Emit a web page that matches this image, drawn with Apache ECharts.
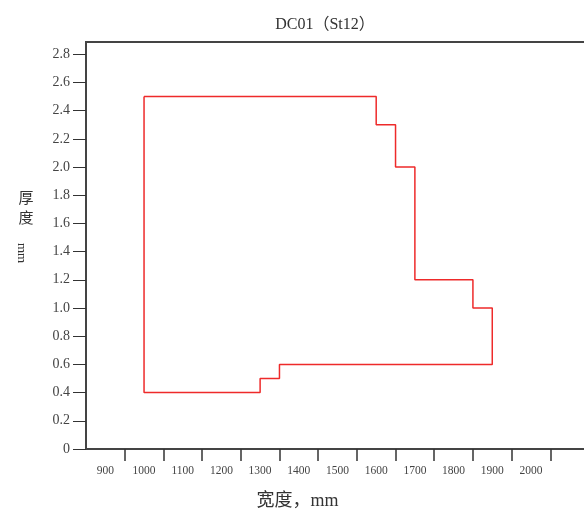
<!DOCTYPE html>
<html>
<head>
<meta charset="utf-8">
<script src="https://cdn.jsdelivr.net/npm/echarts@6/dist/echarts.min.js"></script>
<style>
  html, body { margin: 0; padding: 0; background: #fff; }
  #chart { width: 584px; height: 512px; }
</style>
</head>
<body>
<div id="chart"></div>
<script>
// 宽度-厚度 范围 (closed outline)
var widths = [1000, 1600, 1600, 1650, 1650, 1700, 1700, 1850, 1850, 1900, 1900, 1350, 1350, 1300, 1300, 1000, 1000]
var thicknesses = [2.5, 2.5, 2.3, 2.3, 2.0, 2.0, 1.2, 1.2, 1.0, 1.0, 0.6, 0.6, 0.5, 0.5, 0.4, 0.4, 2.5]
var xLabels = [900, 1000, 1100, 1200, 1300, 1400, 1500, 1600, 1700, 1800, 1900, 2000]
var xTicks = [950, 1050, 1150, 1250, 1350, 1450, 1550, 1650, 1750, 1850, 1950, 2050]
var yLabels = [0, 0.2, 0.4, 0.6, 0.8, 1.0, 1.2, 1.4, 1.6, 1.8, 2.0, 2.2, 2.4, 2.6, 2.8]

var serif = 'Liberation Serif, DejaVu Serif, Noto Sans CJK SC'
var chart = echarts.init(document.getElementById('chart'))

chart.setOption({
  animation: false,
  title: {
    text: 'DC01（St12）',
    left: 320,
    top: 12,
    textAlign: 'center',
    textStyle: { fontFamily: serif, fontSize: 16, fontWeight: 'normal', color: '#333' }
  },
  grid: {
    left: 86,
    right: -5,
    top: 42,
    bottom: 63,
    outerBoundsMode: 'none',
    containLabel: false,
    show: true,
    borderColor: '#444',
    borderWidth: 2
  },
  xAxis: {
    type: 'value',
    min: 850,
    max: 2150,
    offset: 2,
    name: '宽度，mm',
    nameLocation: 'middle',
    nameGap: 41,
    nameTextStyle: { fontFamily: serif, fontSize: 18, color: '#333', padding: [0, 80, 0, 0] },
    splitLine: { show: false },
    axisLine: { show: false },
    axisTick: { show: true, length: 12, customValues: xTicks, lineStyle: { color: '#333', width: 1.5 } },
    axisLabel: {
      customValues: xLabels,
      margin: 14,
      fontFamily: serif,
      fontSize: 11.5,
      color: '#444',
      formatter: function (v) { return String(v) }
    }
  },
  yAxis: {
    type: 'value',
    min: 0,
    max: 2.887,
    splitLine: { show: false },
    axisLine: { show: false },
    axisTick: { show: true, length: 13, customValues: yLabels, lineStyle: { color: '#333' } },
    axisLabel: {
      customValues: yLabels,
      margin: 16,
      fontFamily: serif,
      fontSize: 14,
      color: '#444',
      formatter: function (v) { return v === 0 ? '0' : v.toFixed(1) }
    }
  },
  // 纵轴名称：竖排，mm 旋转
  graphic: [{
    type: 'text',
    x: 26,
    y: 199,
    style: { text: '厚', fontFamily: serif, fontSize: 15, fill: '#333', align: 'center', verticalAlign: 'middle' }
  }, {
    type: 'text',
    x: 26,
    y: 219,
    style: { text: '度', fontFamily: serif, fontSize: 15, fill: '#333', align: 'center', verticalAlign: 'middle' }
  }, {
    type: 'text',
    x: 21,
    y: 253,
    rotation: -Math.PI / 2,
    style: { text: 'mm', fontFamily: serif, fontSize: 13, fill: '#333', align: 'center', verticalAlign: 'middle' }
  }],
  series: [{
    type: 'line',
    data: widths.map(function (w, i) { return [w, thicknesses[i]] }),
    symbol: 'none',
    lineStyle: { color: '#ee2a2a', width: 1.5 }
  }]
})
</script>
</body>
</html>
